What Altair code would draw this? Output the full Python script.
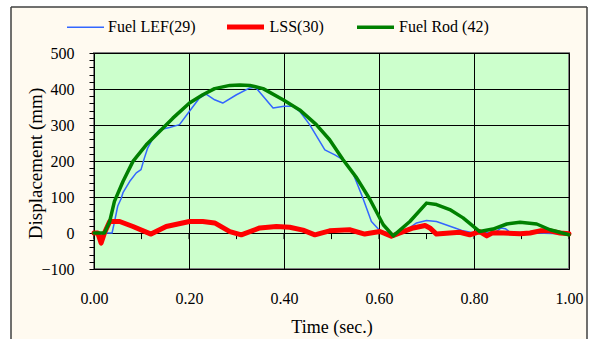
import altair as alt
import pandas as pd

# ---------------- data ----------------
series_names = ["Fuel LEF(29)", "LSS(30)", "Fuel Rod (42)"]
series_colors = ["#3366FF", "#FF0000", "#008000"]
series_widths = [1.5, 5, 3.5]

lef_t = [0, 0.038, 0.043, 0.050, 0.057, 0.061, 0.075, 0.089, 0.099, 0.106, 0.113,
         0.128, 0.138, 0.159, 0.180, 0.201, 0.222, 0.236, 0.254, 0.271, 0.300,
         0.328, 0.340, 0.377, 0.400, 0.419, 0.433, 0.454, 0.486, 0.507, 0.524,
         0.545, 0.566, 0.584, 0.602, 0.630, 0.660, 0.679, 0.700, 0.721, 0.760,
         0.777, 0.800, 0.845, 0.857, 0.866, 0.876, 0.930, 1.0]
lef_v = [0, 0, 30, 75, 95, 112, 143, 167, 176, 208, 236,
         273, 287, 293, 301, 338, 375, 386, 370, 361, 384,
         403, 405, 347, 352, 352, 338, 301, 231, 217, 204,
         167, 97, 32, 6, -3, 10, 28, 35, 32, 14,
         6, 0, 2, 14, 12, 2, 0, -3]

lss_t = [0, 0.008, 0.015, 0.022, 0.033, 0.054, 0.082, 0.120, 0.152, 0.201,
         0.229, 0.254, 0.286, 0.310, 0.349, 0.384, 0.412, 0.440, 0.465, 0.496,
         0.538, 0.570, 0.602, 0.626, 0.651, 0.672, 0.697, 0.707, 0.721, 0.749,
         0.770, 0.791, 0.812, 0.827, 0.840, 0.862, 0.897, 0.918, 0.939, 0.960,
         0.981, 1.0]
lss_v = [0, 0, -28, 0, 32, 32, 18, -3, 18, 32,
         32, 28, 4, -5, 14, 18, 16, 8, -5, 6,
         9, -3, 4, -9, 4, 14, 21, 14, -3, 0,
         2, -5, 4, -8, 1, 0, -2, 0, 6, 6,
         0, -2]

rod_t = [0, 0.022, 0.033, 0.043, 0.061, 0.082, 0.110, 0.138, 0.166, 0.201,
         0.229, 0.254, 0.286, 0.307, 0.328, 0.356, 0.398, 0.433, 0.468, 0.496,
         0.524, 0.553, 0.581, 0.609, 0.630, 0.665, 0.700, 0.721, 0.749, 0.777,
         0.812, 0.840, 0.869, 0.897, 0.932, 0.960, 1.0]
rod_v = [0, 0, 32, 88, 143, 199, 245, 282, 319, 361,
         384, 401, 410, 411, 410, 401, 370, 342, 301, 259,
         204, 153, 93, 23, -8, 32, 83, 79, 65, 42,
         4, 11, 25, 30, 25, 9, -5]

x_label_values = [0, 0.2, 0.4, 0.6, 0.8, 1.0]
x_tick_values = [0, 0.1, 0.2, 0.3, 0.4, 0.5, 0.6, 0.7, 0.8, 0.9, 1.0]
y_tick_values = [-100, -80, -60, -40, -20, 0, 20, 40, 60, 80, 100, 120, 140, 160,
                 180, 200, 220, 240, 260, 280, 300, 320, 340, 360, 380, 400, 420,
                 440, 460, 480, 500]
x_tick_len = 17  # tick length below the zero line, in data units

# ---------------- layout / style ----------------
W, H = 475, 216
FONT = "Liberation Serif"
legend_x = [-28, 130.5, 261]

x_scale = alt.Scale(domain=[0, 1], nice=False, zero=False)
y_scale = alt.Scale(domain=[-100, 500], nice=False, zero=False)

x_axis = alt.Axis(
    values=x_label_values, format=".2f", grid=True, gridColor="black", gridWidth=1,
    ticks=False, tickSize=0, domain=False, labelFlush=False, labelOverlap=False,
    labelFont=FONT, labelFontSize=16, labelColor="black", labelPadding=21,
    title="Time (sec.)", titleFont=FONT, titleFontSize=18, titleFontWeight="normal",
    titleColor="black", titleBaseline="alphabetic", titleY=63,
)
y_axis = alt.Axis(
    values=y_tick_values,
    labelExpr="datum.value % 100 === 0 ? datum.label : ''",
    grid=True, gridColor="black", gridWidth=1,
    gridOpacity={"condition": {"test": "datum.value % 100 === 0", "value": 1}, "value": 0},
    tickSize=5, tickColor="black", tickWidth=1, domain=False,
    labelFont=FONT, labelFontSize=16, labelColor="black", labelPadding=15,
    labelOverlap=False, labelFlush=False,
    title="Displacement (mm)", titleFont=FONT, titleFontSize=19, titleFontWeight="normal",
    titleColor="black", titleAngle=270, titleBaseline="alphabetic", titleAlign="center",
    titleX=-53, titleY=110,
)

X = alt.X("t:Q", scale=x_scale, axis=x_axis)
Y = alt.Y("v:Q", scale=y_scale, axis=y_axis)


def series_layer(i, t, v):
    name, col, w = series_names[i], series_colors[i], series_widths[i]
    df = pd.DataFrame({"t": t, "v": v, "series": name})
    legend = alt.Legend(
        orient="none", legendX=legend_x[i], legendY=-26 - (37 + w) / 2,
        direction="horizontal", title=None, symbolType="stroke", symbolSize=1369,
        symbolStrokeWidth=w, labelFont=FONT, labelFontSize=16, labelColor="black",
        labelOffset=3, padding=0,
    )
    return alt.Chart(df).mark_line(strokeWidth=w, strokeJoin="round", strokeCap="round").encode(
        x=X, y=Y,
        color=alt.Color("series:N", scale=alt.Scale(domain=[name], range=[col]), legend=legend),
        order=alt.Order("t:Q"),
    )


lef = series_layer(0, lef_t, lef_v)
lss = series_layer(1, lss_t, lss_v)
rod = series_layer(2, rod_t, rod_v)

# small ticks hanging below the zero line (Excel axis crossing at 0)
tick_df = pd.DataFrame({"t": x_tick_values, "v": [0] * len(x_tick_values),
                        "v2": [-x_tick_len] * len(x_tick_values)})
ticks = alt.Chart(tick_df).mark_rule(color="black", strokeWidth=1).encode(
    x=X, y=Y, y2="v2:Q",
)

# outer frame decoration (white margin + dark border around the cream panel)
deco = pd.DataFrame({"k": [0]})
white_top = alt.Chart(deco).mark_rect(color="white").encode(
    x=alt.value(-94), x2=alt.value(W + 20), y=alt.value(-53), y2=alt.value(-46))
white_left = alt.Chart(deco).mark_rect(color="white").encode(
    x=alt.value(-94), x2=alt.value(-83), y=alt.value(-53), y2=alt.value(H + 70))
white_right = alt.Chart(deco).mark_rect(color="white").encode(
    x=alt.value(W + 18), x2=alt.value(W + 20), y=alt.value(-53), y2=alt.value(H + 70))
border_left = alt.Chart(deco).mark_rule(color="#404040", strokeWidth=1.5).encode(
    x=alt.value(-83), y=alt.value(-46), y2=alt.value(H + 70))
border_right = alt.Chart(deco).mark_rule(color="#404040", strokeWidth=1.5).encode(
    x=alt.value(W + 18), y=alt.value(-46), y2=alt.value(H + 70))
border_top = alt.Chart(deco).mark_rule(color="#404040", strokeWidth=1.5).encode(
    x=alt.value(-83), x2=alt.value(W + 18), y=alt.value(-46))

chart = alt.layer(
    white_top, white_left, white_right, border_left, border_right, border_top,
    ticks, lef, lss, rod,
).resolve_scale(
    color="independent"
).resolve_legend(
    color="independent"
).properties(
    width=W, height=H,
    autosize=alt.AutoSizeParams(type="none"),
    padding={"left": 94, "top": 53, "right": 20, "bottom": 70},
    background="#FFFAF0",
).configure_view(
    fill="#CCFFCC", stroke="#808080", strokeWidth=2,
)

chart.save("out.html", embed_options={"renderer": "svg", "actions": False})
